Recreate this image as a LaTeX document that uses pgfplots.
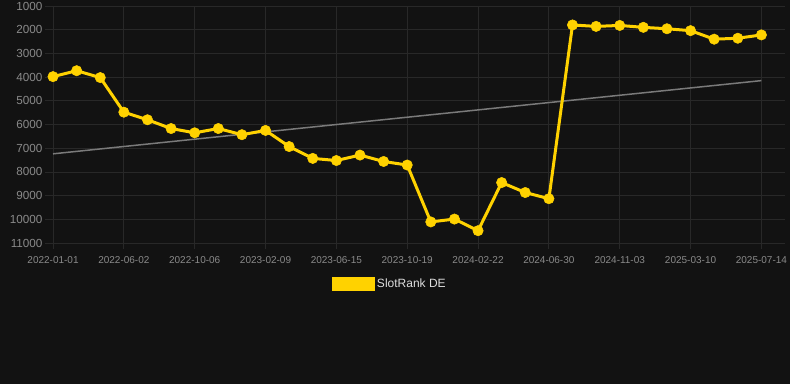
\documentclass[border=0pt]{standalone}
\usepackage{pgfplots}
\pgfplotsset{compat=1.18}
\usepackage{fontspec}
\setmainfont{Liberation Sans}
\definecolor{bg}{HTML}{121212}
\definecolor{gridc}{HTML}{282828}
\definecolor{ticklab}{HTML}{8A8A8A}
\definecolor{gold}{HTML}{FFD200}
\definecolor{trend}{HTML}{7A7A7A}
\definecolor{legtext}{HTML}{DDDDDD}
\begin{document}
\begin{tikzpicture}
\fill[bg] (-45pt,-141pt) rectangle (745pt,243pt);
\begin{axis}[
  scale only axis, width=740pt, height=237pt,
  y dir=reverse,
  ymin=1000, ymax=11000, ytick={1000,2000,...,11000},
  xmin=-0.34, xmax=31,
  xtick={0,3,...,30},
  xticklabels={2022-01-01,2022-06-02,2022-10-06,2023-02-09,2023-06-15,2023-10-19,2024-02-22,2024-06-30,2024-11-03,2025-03-10,2025-07-14},
  axis line style={draw=none},
  grid=major, grid style={gridc, line width=0.8pt},
  xtick pos=lower, ytick pos=left,
  tick align=outside,
  major tick length=6pt,
  xtick style={gridc, line width=0.8pt},
  ytick style={draw=none},
  /pgf/number format/assume math mode=true,
  /pgf/number format/set thousands separator={},
  scaled y ticks=false,
  yticklabel style={font=\fontsize{11.7}{14}\selectfont, color=ticklab, xshift=7pt},
  xticklabel style={font=\fontsize{10}{12}\selectfont, color=ticklab, yshift=-4pt},
  legend style={at={(0.466,-0.173)}, anchor=center, draw=none, fill=none,
    text=legtext, font=\fontsize{12}{14}\selectfont},
  legend image code/.code={\fill[gold] (0pt,-5.5pt) rectangle (40pt,5.5pt);},
]
\addplot[trend, line width=1.5pt, forget plot] coordinates {(0,7237) (30,4148)};
\addplot[gold, line width=3pt, mark=*, mark size=5.2pt,
  mark options={solid, fill=gold, draw=gold, line width=0.5pt}] coordinates {
(0,3980) (1,3730) (2,4020) (3,5480) (4,5800) (5,6170) (6,6350) (7,6170)
(8,6430) (9,6250) (10,6930) (11,7430) (12,7520) (13,7290) (14,7560) (15,7710)
(16,10110) (17,9990) (18,10480) (19,8450) (20,8870) (21,9130)
(22,1800) (23,1860) (24,1820) (25,1900) (26,1960) (27,2040) (28,2400) (29,2360) (30,2220)
};
\addlegendentry{SlotRank DE}
\end{axis}
\pgfresetboundingbox
\path (-45pt,-141pt) rectangle (745pt,243pt);
\end{tikzpicture}
\end{document}
